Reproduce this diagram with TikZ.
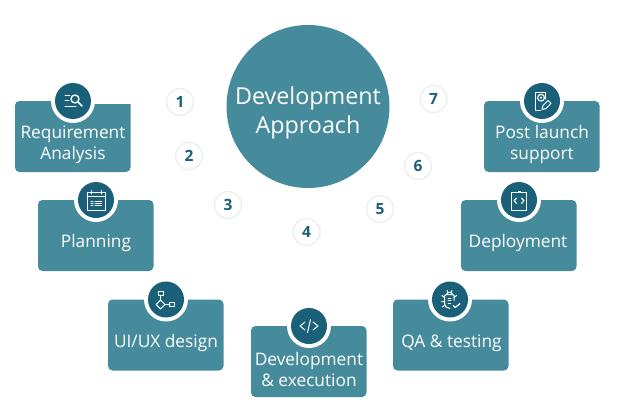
\documentclass[tikz,border=0pt]{standalone}
\usepackage{fontspec}
\setmainfont{Open Sans}
\definecolor{cardteal}{HTML}{458B9B}
\definecolor{deepteal}{HTML}{1A6079}
\definecolor{ringgrey}{HTML}{ECEFF0}
\tikzset{
  x=1pt,y=-1pt,
  card/.style={fill=cardteal,draw=none,rounded corners=4.5pt},
  badgering/.style={circle,fill=white,draw=none,minimum size=44pt,inner sep=0pt},
  badge/.style={circle,fill=deepteal,draw=none,minimum size=36pt,inner sep=0pt},
  cardtext/.style={text=white,font=\fontsize{17.3}{21}\selectfont,align=center,inner sep=0pt},
  hubtext/.style={text=white,font=\fontsize{23.3}{29}\selectfont,align=center,inner sep=0pt},
  stepnum/.style={circle,fill=white,draw=ringgrey,line width=1.5pt,minimum size=27pt,inner sep=0pt,
    text=deepteal,font=\fontsize{15.5}{16}\selectfont},
  glyph/.style={draw=white,line width=1pt,fill=none,line cap=round,line join=round},
  glyphfill/.style={fill=white,draw=none}
}
% Card with its badge straddling the top edge; #1 name, #2 left, #3 top, #4 centre x
\newcommand{\stepcard}[4]{%
  \fill[card] (#2,#3) rectangle ++(115.5,71);
  \node[badgering] (#1ring) at (#4,#3) {};
  \node[badge] (#1) at (#4,#3) {};
}
\begin{document}
\begin{tikzpicture}
\useasboundingbox (0,0) rectangle (619,407);

% Central hub
\node[circle,fill=cardteal,minimum size=163pt,inner sep=0pt] (hub) at (308,106.5) {};
\node[hubtext] (hubtitle) at (308,112.5) {Development\\Approach};

% Requirement card: its right shoulder sits a little lower than the left one
\fill[cardteal,rounded corners=4.5pt] (15,101) -- (15,172) -- (130.5,172) -- (130.5,160) [sharp corners] -- (130.5,104) -- (73,104) -- (73,101) [rounded corners=4.5pt] -- cycle;
\node[badgering] (reqring) at (73,101) {};
\node[badge] (req) at (73,101) {};
\stepcard{plan}{38}{200}{96}
\stepcard{ux}{108}{299.5}{166}
\stepcard{dev}{251}{326}{309}
\stepcard{qa}{393}{299.5}{450}
\stepcard{deploy}{461}{200}{519}
\stepcard{post}{484}{101}{542}

% Card captions
\node[cardtext] (reqtext) at (73,145) {Requirement\\Analysis};
\node[cardtext] (plantext) at (96,243) {Planning};
\node[cardtext] (uxtext) at (166,343) {UI/UX design};
\node[cardtext] (devtext) at (309,369.5) {Development\\\&\ execution};
\node[cardtext] (qatext) at (451.5,343) {QA \&\ testing};
\node[cardtext] (deploytext) at (518,243) {Deployment};
\node[cardtext] (posttext) at (542,145) {Post launch\\support};

% Numbered steps around the hub
\node[stepnum] (n1) at (180,102) {\textbf{1}};
\node[stepnum] (n2) at (189,156) {\textbf{2}};
\node[stepnum] (n3) at (228,205) {\textbf{3}};
\node[stepnum] (n4) at (306.5,232) {\textbf{4}};
\node[stepnum] (n5) at (380,209) {\textbf{5}};
\node[stepnum] (n6) at (418,166) {\textbf{6}};
\node[stepnum] (n7) at (433.5,99) {\textbf{7}};

% Requirement icon: text lines and magnifier
\begin{scope}[shift={(req.center)}]
  \draw[glyph] (-8,-6) -- (-3,-6) (-8,-1) -- (-4,-1) (-8,5) -- (3,5);
  \draw[glyph,line width=1.3pt] (2,-2) circle (4);
  \draw[glyph,line width=1.6pt] (5,1) -- (9,5);
\end{scope}

% Planning icon: calendar with a list
\begin{scope}[shift={(plan.center)}]
  \draw[glyph] (-9,-7.3) rectangle (9,10);
  \draw[glyph] (-9,-3.3) -- (9,-3.3);
  \draw[glyph] (-5,-9.3) -- (-5,-6) (5,-9.3) -- (5,-6);
  \draw[glyph] (-5,1) -- (-3,1) (-1,1) -- (5.5,1) (-5,3.4) -- (-3,3.4) (-1,3.4) -- (5.5,3.4) (-5,5.8) -- (-3,5.8) (-1,5.8) -- (5.5,5.8);
\end{scope}

% UX icon: flow chart
\begin{scope}[shift={(ux.center)}]
  \draw[glyph] (-7.8,-8.3) rectangle (-3,-3.6);
  \draw[glyph] (-5.4,-3.6) -- (-5.4,0.6);
  \draw[glyph] (-5.4,0.6) -- (-1,5) -- (-5.4,9.4) -- (-9.8,5) -- cycle;
  \draw[glyph] (-1,5) -- (3.8,5);
  \draw[glyph] (3.8,2.7) rectangle (8.7,7.3);
\end{scope}

% Code icon
\begin{scope}[shift={(dev.center)}]
  \draw[glyph] (-4,-4) -- (-9,0) -- (-4,4) (4,-4) -- (9,0) -- (4,4) (1.5,-6.5) -- (-1.5,6.5);
\end{scope}

% Testing icon: bug and tick
\begin{scope}[shift={(qa.center)}]
  \draw[glyph] (-3.5,-5) .. controls (-3,-8) and (2,-8) .. (2.5,-5) -- (4,-4) -- (4,1) (0,9) .. controls (-3,9) and (-5.5,7) .. (-5.5,3) -- (-5.5,-4) -- (-3.5,-5) -- (2.5,-5);
  \draw[glyph] (-5.5,-2) -- (-8,-4) (-5.5,2) -- (-8.5,2) (-5,5.5) -- (-7.5,7.5) (4,-2) -- (6.5,-4) (-3,-9) -- (-2,-7) (2,-9) -- (1,-7);
  \draw[glyph] (-2,-1.5) -- (1,-1.5) (-2,1) -- (1,1) (-2,3.5) -- (0.5,3.5);
  \draw[glyph,line width=1.2pt] (3.3,6) -- (5.3,8) -- (10,4);
\end{scope}

% Deployment icon: clipboard with brackets
\begin{scope}[shift={(deploy.center)}]
  \draw[glyph] (-7.7,-7.3) rectangle (7.7,10);
  \fill[white] (-1.5,-9) rectangle (1.5,-7);
  \draw[glyph,line width=1.2pt] (-2.5,-1.8) -- (-5,0.8) -- (-2.5,3.4) (2.5,-1.8) -- (5,0.8) -- (2.5,3.4);
\end{scope}

% Support icon: document, gear and pencil
\begin{scope}[shift={(post.center)}]
  \draw[glyph] (-1.5,9) -- (-7,9) -- (-7,-9) -- (3.8,-9) -- (3.8,-2);
  \draw[glyph,dashed,dash pattern=on 1pt off 1pt,line width=1.4pt] (-1,-3.3) circle (3.4);
  \fill[white] (-1,-3.3) circle (1.2);
  \draw[glyph] (0,8.5) -- (1,4.5) -- (6,-0.5) -- (9,2.5) -- (4,7.5) -- cycle;
\end{scope}
\end{tikzpicture}
\end{document}
